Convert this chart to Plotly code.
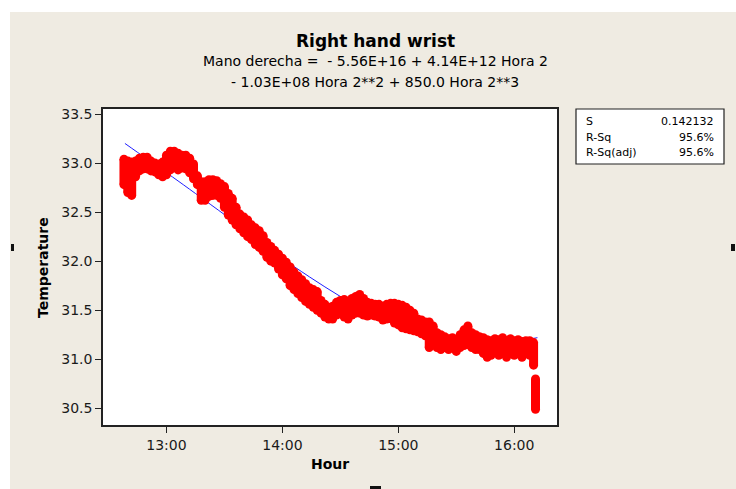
import plotly.graph_objects as go

# ---------------- data ----------------
# sample times in minutes after 12:00; each sample has the upper and lower
# reading of the dense logger trace around that time
sample_min = list(range(38, 252, 2)) + [251]
temp_high = [
    33.04, 33.02, 33.01, 33.02, 33.05, 33.06, 33.06, 33.02, 33.00, 32.99,
    33.01, 33.08, 33.12, 33.12, 33.10, 33.08, 33.08, 33.05, 32.99, 32.87,
    32.81, 32.81, 32.83, 32.83, 32.82, 32.79, 32.76, 32.69, 32.64, 32.55,
    32.48, 32.45, 32.42, 32.37, 32.34, 32.31, 32.26, 32.19, 32.15, 32.11,
    32.07, 32.03, 31.99, 31.94, 31.89, 31.85, 31.81, 31.77, 31.73, 31.71,
    31.69, 31.60, 31.56, 31.53, 31.54, 31.58, 31.60, 31.61, 31.59, 31.62,
    31.64, 31.66, 31.62, 31.58, 31.57, 31.56, 31.56, 31.54, 31.56, 31.57,
    31.57, 31.56, 31.55, 31.53, 31.50, 31.47, 31.41, 31.40, 31.38, 31.38,
    31.34, 31.27, 31.25, 31.23, 31.21, 31.22, 31.20, 31.25, 31.30, 31.34,
    31.27, 31.25, 31.23, 31.22, 31.20, 31.19, 31.21, 31.20, 31.22, 31.19,
    31.21, 31.19, 31.20, 31.18, 31.19, 31.19, 31.17,
    30.80,
]
temp_low = [
    32.78, 32.70, 32.67, 32.86, 32.92, 32.94, 32.94, 32.92, 32.91, 32.88,
    32.86, 32.88, 32.93, 32.96, 32.93, 32.95, 32.94, 32.90, 32.84, 32.78,
    32.62, 32.62, 32.66, 32.67, 32.67, 32.64, 32.55, 32.47, 32.42, 32.37,
    32.33, 32.29, 32.25, 32.22, 32.17, 32.14, 32.10, 32.04, 32.00, 31.98,
    31.92, 31.86, 31.82, 31.75, 31.71, 31.67, 31.63, 31.59, 31.56, 31.53,
    31.50, 31.47, 31.43, 31.41, 31.41, 31.45, 31.47, 31.43, 31.41, 31.45,
    31.47, 31.47, 31.45, 31.44, 31.45, 31.44, 31.43, 31.40, 31.41, 31.42,
    31.37, 31.35, 31.32, 31.31, 31.30, 31.29, 31.28, 31.26, 31.24, 31.12,
    31.16, 31.12, 31.10, 31.12, 31.10, 31.14, 31.08, 31.12, 31.14, 31.15,
    31.12, 31.10, 31.10, 31.06, 31.02, 31.04, 31.08, 31.04, 31.06, 31.02,
    31.06, 31.04, 31.06, 31.02, 31.06, 31.04, 30.94,
    30.49,
]

# fitted cubic regression line
fit_min = [38.5, 50, 63, 75, 91, 104, 117, 134, 150, 166, 181, 191, 203, 215, 227, 239, 252]
fit_temp = [33.20, 33.04, 32.86, 32.69, 32.46, 32.27, 32.07, 31.84, 31.64, 31.46,
            31.33, 31.26, 31.20, 31.17, 31.16, 31.18, 31.22]

x_tick_vals = [13, 14, 15, 16]
x_tick_text = ["13:00", "14:00", "15:00", "16:00"]
y_tick_vals = [30.5, 31.0, 31.5, 32.0, 32.5, 33.0, 33.5]

stat_labels = ["S", "R-Sq", "R-Sq(adj)"]
stat_values = ["0.142132", "95.6%", "95.6%"]

title_text = "Right hand wrist"
eq_line1 = "Mano derecha =  - 5.56E+16 + 4.14E+12 Hora 2"
eq_line2 = "- 1.03E+08 Hora 2**2 + 850.0 Hora 2**3"

# ---------------- figure ----------------
BEIGE = "#EFEBE2"
FONT = "DejaVu Sans"

def hour(m):
    return 12 + m / 60.0

xs, ys = [], []
for m, hi, lo in zip(sample_min, temp_high, temp_low):
    xs += [hour(m), hour(m), None]
    ys += [hi, lo, None]

fig = go.Figure()
fig.add_trace(go.Scatter(
    x=[hour(m) for m in fit_min], y=fit_temp, mode="lines",
    line=dict(color="#1f1fff", width=1, shape="spline", smoothing=1.0),
    hoverinfo="skip",
))
fig.add_trace(go.Scatter(
    x=xs, y=ys, mode="lines+markers",
    line=dict(color="#FF0000", width=9),
    marker=dict(color="#FF0000", size=9, line=dict(width=0)),
    connectgaps=False,
))

L, R, T, B = 103, 179, 109, 64
W, H = 736, 489
pw, ph = W - L - R, H - T - B

def px(x):
    return (x - L) / pw

def py(y):
    return (H - B - y) / ph

shapes = [
    # white strips at top and left edge of the screenshot
    dict(type="rect", xref="paper", yref="paper", x0=px(0), x1=px(W), y0=py(12), y1=py(0),
         fillcolor="white", line=dict(width=0), layer="below"),
    dict(type="rect", xref="paper", yref="paper", x0=px(0), x1=px(10), y0=py(H), y1=py(0),
         fillcolor="white", line=dict(width=0), layer="below"),
    # window resize handles
    dict(type="rect", xref="paper", yref="paper", x0=px(11), x1=px(14), y0=py(251), y1=py(244),
         fillcolor="#111", line=dict(width=0)),
    dict(type="rect", xref="paper", yref="paper", x0=px(731), x1=px(735), y0=py(251), y1=py(244),
         fillcolor="#111", line=dict(width=0)),
    dict(type="rect", xref="paper", yref="paper", x0=px(370), x1=px(381), y0=py(489), y1=py(486),
         fillcolor="#111", line=dict(width=0)),
    # stats box
    dict(type="rect", xref="paper", yref="paper", x0=px(576), x1=px(724), y0=py(164), y1=py(109),
         fillcolor="white", line=dict(color="#222", width=1.2)),
]

annotations = [
    dict(text="<b>" + title_text + "</b>", x=px(375), y=py(41), xref="paper", yref="paper",
         showarrow=False, xanchor="center", yanchor="middle",
         font=dict(family=FONT, size=17, color="#000")),
    dict(text=eq_line1, x=px(375), y=py(61), xref="paper", yref="paper",
         showarrow=False, xanchor="center", yanchor="middle",
         font=dict(family=FONT, size=14, color="#000")),
    dict(text=eq_line2, x=px(375), y=py(82), xref="paper", yref="paper",
         showarrow=False, xanchor="center", yanchor="middle",
         font=dict(family=FONT, size=14, color="#000")),
    dict(text="<b>Temperature</b>", x=px(43), y=py(268), xref="paper", yref="paper",
         showarrow=False, xanchor="center", yanchor="middle", textangle=-90,
         font=dict(family=FONT, size=14, color="#000")),
    dict(text="<b>Hour</b>", x=px(330), y=py(464), xref="paper", yref="paper",
         showarrow=False, xanchor="center", yanchor="middle",
         font=dict(family=FONT, size=14, color="#000")),
]
row_y = [121, 137, 152]
for lab, val, yy in zip(stat_labels, stat_values, row_y):
    annotations.append(dict(text=lab, x=px(584), y=py(yy), xref="paper", yref="paper",
                            showarrow=False, xanchor="left", yanchor="middle",
                            font=dict(family=FONT, size=11, color="#000")))
    annotations.append(dict(text=val, x=px(716), y=py(yy), xref="paper", yref="paper",
                            showarrow=False, xanchor="right", yanchor="middle",
                            font=dict(family=FONT, size=11, color="#000")))

axis_common = dict(
    showgrid=False, zeroline=False, showline=True, linecolor="#222", linewidth=1.5,
    mirror=True, ticks="outside", ticklen=6, tickwidth=1, tickcolor="#222",
    tickfont=dict(family=FONT, size=14, color="#1a1a1a"),
)

fig.update_layout(
    width=W, height=H, autosize=False,
    margin=dict(l=L, r=R, t=T, b=B, pad=0),
    paper_bgcolor=BEIGE, plot_bgcolor="white",
    showlegend=False,
    shapes=shapes, annotations=annotations,
    xaxis=dict(range=[12.4525, 16.3687], tickvals=x_tick_vals, ticktext=x_tick_text, **axis_common),
    yaxis=dict(range=[30.33, 33.551], tickvals=y_tick_vals, tickformat=".1f", **axis_common),
)

fig.write_html(
    "out.html",
    config={"displayModeBar": False},
    post_script="document.body.style.margin='0';document.body.style.overflow='hidden';",
)
